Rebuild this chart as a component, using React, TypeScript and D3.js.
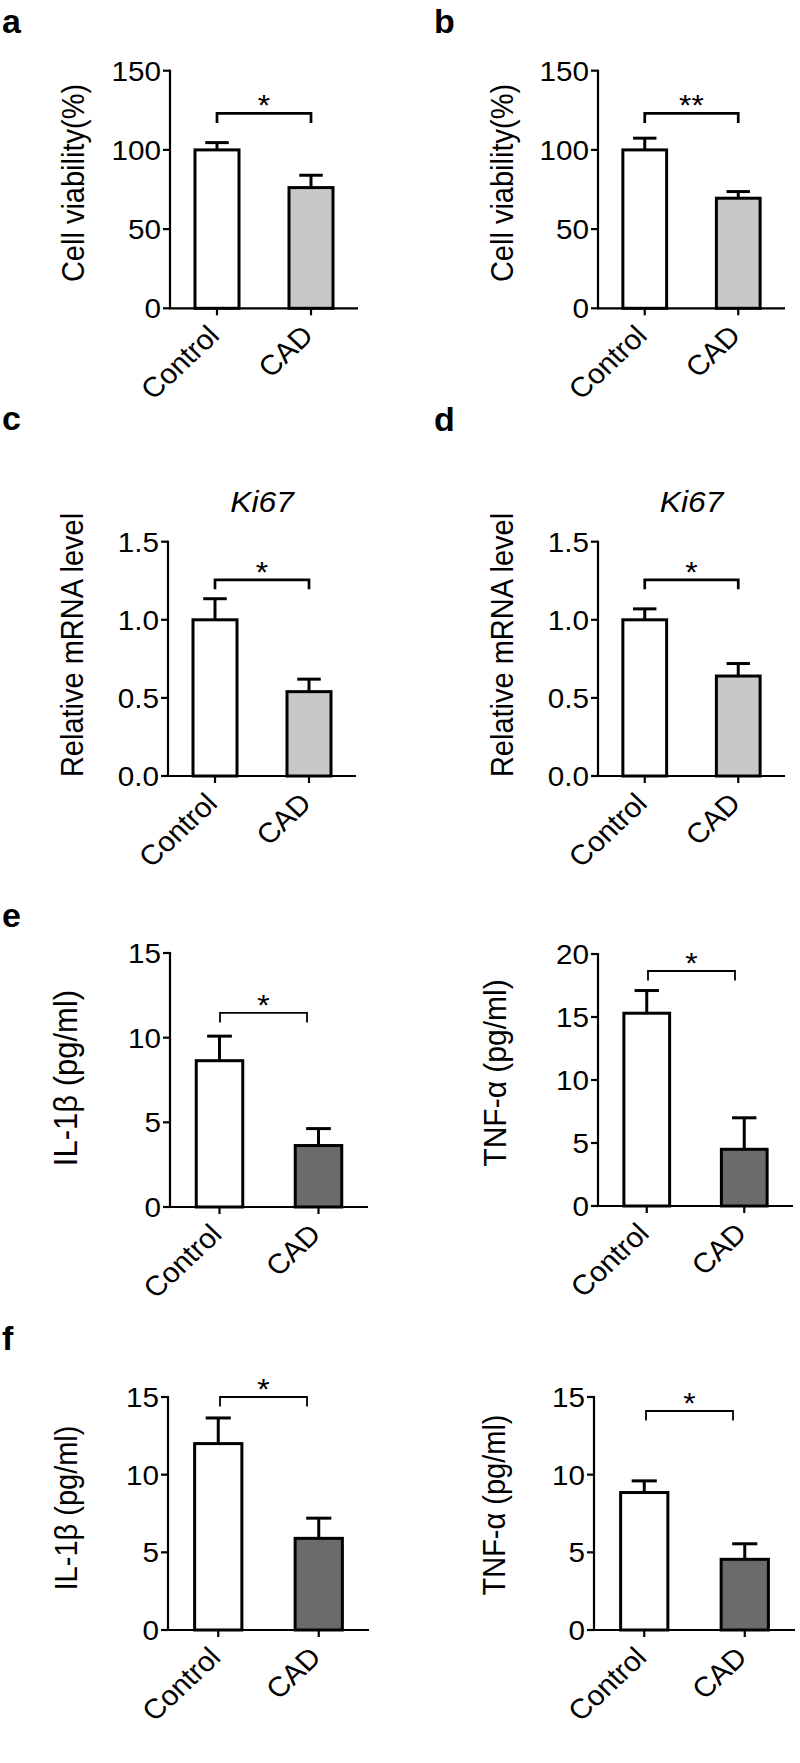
import React from "react";
import * as d3 from "d3";

// ---------- data ----------
const categories = ["Control", "CAD"];

const aMeans = [100, 76.2];
const aSem = [4.6, 7.8];
const bMeans = [100, 69.5];
const bSem = [7.4, 4.2];
const cMeans = [1.0, 0.54];
const cSem = [0.135, 0.08];
const dMeans = [1.0, 0.64];
const dSem = [0.07, 0.08];
const e1Means = [8.64, 3.63];
const e1Sem = [1.45, 1.0];
const e2Means = [15.3, 4.5];
const e2Sem = [1.8, 2.5];
const f1Means = [12.0, 5.9];
const f1Sem = [1.65, 1.3];
const f2Means = [8.85, 4.55];
const f2Sem = [0.75, 1.0];

const ticksViability = [0, 50, 100, 150];
const ticksMrna = [0, 0.5, 1.0, 1.5];
const ticks15 = [0, 5, 10, 15];
const ticks20 = [0, 5, 10, 15, 20];

const titleViability = "Cell viability(%)";
const titleMrna = "Relative mRNA level";
const titleIL = "IL-1β (pg/ml)";
const titleTNF = "TNF-α (pg/ml)";

// ---------- layout ----------
const LIGHT = "#c8c8c8";
const DARK = "#6b6b6b";
const FONT = "'Liberation Sans', Arial, Helvetica, sans-serif";
const SX = 1.06; // slight horizontal widening of glyphs, as in the reference

type Panel = {
  means: number[];
  sem: number[];
  fill: string;
  domain: [number, number];
  ticks: number[];
  fmt: (v: number) => string;
  ytitle: string;
  ytFs: number;
  ytx: number;
  yty: number;
  ax: number;
  axEnd: number;
  y0: number;
  yTop: number;
  bracketVal: number;
  bracketX?: [number, number];
  bracketW: number;
  stars: string;
  title?: string;
};

const intFmt = d3.format("d");
const oneFmt = d3.format(".1f");

const panels: Panel[] = [
  { means: aMeans, sem: aSem, fill: LIGHT, domain: [0, 150], ticks: ticksViability, fmt: intFmt, ytitle: titleViability, ytFs: 29, ytx: 84, yty: 183, ax: 170, axEnd: 358, y0: 308.3, yTop: 70.7, bracketVal: 123, bracketW: 2.7, stars: "*" },
  { means: bMeans, sem: bSem, fill: LIGHT, domain: [0, 150], ticks: ticksViability, fmt: intFmt, ytitle: titleViability, ytFs: 29, ytx: 513, yty: 183, ax: 598, axEnd: 785, y0: 308.3, yTop: 70.7, bracketVal: 123, bracketW: 2.7, stars: "**" },
  { means: cMeans, sem: cSem, fill: LIGHT, domain: [0, 1.5], ticks: ticksMrna, fmt: oneFmt, ytitle: titleMrna, ytFs: 29, ytx: 83, yty: 645, ax: 168, axEnd: 356, y0: 776, yTop: 541.7, bracketVal: 1.256, bracketW: 2.7, stars: "*", title: "Ki67" },
  { means: dMeans, sem: dSem, fill: LIGHT, domain: [0, 1.5], ticks: ticksMrna, fmt: oneFmt, ytitle: titleMrna, ytFs: 29, ytx: 513, yty: 645, ax: 598, axEnd: 785, y0: 776, yTop: 541.7, bracketVal: 1.256, bracketW: 2.7, stars: "*", title: "Ki67" },
  { means: e1Means, sem: e1Sem, fill: DARK, domain: [0, 15], ticks: ticks15, fmt: intFmt, ytitle: titleIL, ytFs: 31, ytx: 77, yty: 1078, ax: 170, axEnd: 368, y0: 1207, yTop: 953, bracketVal: 11.46, bracketX: [220, 307], bracketW: 1.8, stars: "*" },
  { means: e2Means, sem: e2Sem, fill: DARK, domain: [0, 20], ticks: ticks20, fmt: intFmt, ytitle: titleTNF, ytFs: 30, ytx: 506, yty: 1073, ax: 598, axEnd: 793, y0: 1206, yTop: 954, bracketVal: 18.65, bracketX: [648, 735], bracketW: 1.8, stars: "*" },
  { means: f1Means, sem: f1Sem, fill: DARK, domain: [0, 15], ticks: ticks15, fmt: intFmt, ytitle: titleIL, ytFs: 29, ytx: 77, yty: 1508, ax: 168, axEnd: 369, y0: 1630, yTop: 1397, bracketVal: 15.0, bracketX: [220, 307], bracketW: 1.8, stars: "*" },
  { means: f2Means, sem: f2Sem, fill: DARK, domain: [0, 15], ticks: ticks15, fmt: intFmt, ytitle: titleTNF, ytFs: 29, ytx: 505, yty: 1505, ax: 594, axEnd: 795, y0: 1630, yTop: 1397, bracketVal: 14.1, bracketX: [646, 733], bracketW: 1.8, stars: "*" },
];

const panelLetters = [
  { t: "a", x: 2, y: 33 },
  { t: "b", x: 434, y: 33 },
  { t: "c", x: 2, y: 430 },
  { t: "d", x: 434, y: 431 },
  { t: "e", x: 2, y: 927 },
  { t: "f", x: 2, y: 1350 },
];

function BarPanel({ p }: { p: Panel }) {
  const y = d3.scaleLinear().domain(p.domain).range([p.y0, p.yTop]);
  const x = d3
    .scaleBand<string>()
    .domain(categories)
    .range([p.ax, p.axEnd])
    .paddingInner(0.5)
    .paddingOuter(0.25);
  const bw = x.bandwidth();
  const cx = (c: string) => (x(c) as number) + bw / 2;
  const sw = 3;
  const [bx0, bx1] = p.bracketX ?? [cx(categories[0]), cx(categories[1])];
  const by = y(p.bracketVal);
  const fs = 28;
  return (
    <g fontFamily={FONT}>
      {p.title && (
        <text
          transform={`translate(${(p.ax + p.axEnd) / 2},512) scale(${SX},1)`}
          fontSize={30}
          fontStyle="italic"
          textAnchor="middle"
        >
          {p.title}
        </text>
      )}
      {/* y title */}
      <text
        transform={`translate(${p.ytx},${p.yty}) scale(${SX},1) rotate(-90)`}
        fontSize={p.ytFs}
        textAnchor="middle"
      >
        {p.ytitle}
      </text>
      {/* bars */}
      {categories.map((c, i) => {
        const top = y(p.means[i]);
        const errTop = y(p.means[i] + p.sem[i]);
        const xc = cx(c);
        return (
          <g key={c}>
            <line x1={xc} x2={xc} y1={top} y2={errTop} stroke="#000" strokeWidth={3} />
            <line x1={xc - bw / 4} x2={xc + bw / 4} y1={errTop} y2={errTop} stroke="#000" strokeWidth={3} />
            <rect
              x={(x(c) as number) + sw / 2}
              y={top}
              width={bw - sw}
              height={p.y0 - top}
              fill={i === 0 ? "#ffffff" : p.fill}
              stroke="#000"
              strokeWidth={sw}
            />
          </g>
        );
      })}
      {/* y axis */}
      <line x1={p.ax} x2={p.ax} y1={p.y0} y2={p.yTop - 1} stroke="#000" strokeWidth={2.2} />
      {p.ticks.map((t) => (
        <g key={t}>
          <line x1={p.ax - 7} x2={p.ax} y1={y(t)} y2={y(t)} stroke="#000" strokeWidth={2.2} />
          <text
            transform={`translate(${p.ax - 9},${y(t)}) scale(${SX},1)`}
            dy="0.36em"
            fontSize={fs}
            textAnchor="end"
          >
            {p.fmt(t)}
          </text>
        </g>
      ))}
      {/* x axis */}
      <line x1={p.ax - 1} x2={p.axEnd} y1={p.y0} y2={p.y0} stroke="#000" strokeWidth={2.2} />
      {categories.map((c) => (
        <g key={c}>
          <line x1={cx(c)} x2={cx(c)} y1={p.y0} y2={p.y0 + 7} stroke="#000" strokeWidth={2.2} />
          <text
            transform={`translate(${cx(c) + 4},${p.y0 + 29}) scale(${SX},1) rotate(-45)`}
            fontSize={fs}
            textAnchor="end"
          >
            {c}
          </text>
        </g>
      ))}
      {/* significance bracket */}
      <path
        d={`M${bx0},${by + 9.5}V${by}H${bx1}V${by + 9.5}`}
        fill="none"
        stroke="#000"
        strokeWidth={p.bracketW}
      />
      <text
        transform={`translate(${(bx0 + bx1) / 2},${by + 2}) scale(${SX},1)`}
        fontSize={30}
        textAnchor="middle"
      >
        {p.stars}
      </text>
    </g>
  );
}

export default function App() {
  return (
    <svg
      width={800}
      height={1763}
      viewBox="0 0 800 1763"
      style={{ position: "absolute", left: 0, top: 0, background: "#fff" }}
    >
      <rect x={0} y={0} width={800} height={1763} fill="#fff" />
      {panelLetters.map((l) => (
        <text key={l.t} x={l.x} y={l.y} fontFamily={FONT} fontWeight="bold" fontSize={34}>
          {l.t}
        </text>
      ))}
      {panels.map((p, i) => (
        <BarPanel key={i} p={p} />
      ))}
    </svg>
  );
}
